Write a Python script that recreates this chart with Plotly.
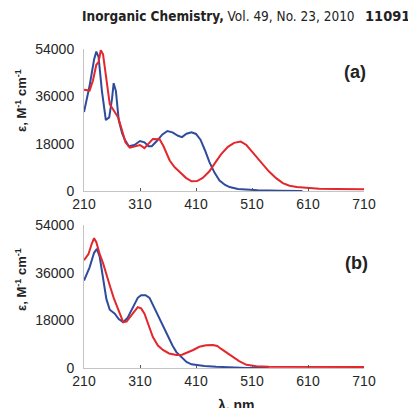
import plotly.graph_objects as go

# ---- data ----
wl_a_blue = [210, 220, 228, 232, 236, 242, 249, 255, 260, 263, 267, 272, 278, 283, 290, 300, 310, 318, 325,
             331, 340, 350, 359, 368, 378, 385, 393, 402, 410, 418, 426, 434, 443, 452, 462, 470, 485, 500,
             520, 560, 600]
eps_a_blue = [30000, 40000, 50000, 53000, 51000, 38000, 27000, 28000, 35000, 41000, 38000, 27000, 22000,
              19500, 17000, 17500, 19000, 18500, 17000, 17000, 19000, 21500, 22800, 22300, 21000, 20500,
              21800, 22300, 21700, 19500, 15500, 11000, 7000, 4000, 2300, 1500, 800, 500, 300, 100, 0]

wl_a_red = [210, 220, 226, 232, 236, 240, 244, 250, 256, 262, 271, 278, 284, 292, 300, 310, 318, 325, 333,
            345, 352, 363, 372, 381, 392, 402, 412, 422, 434, 445, 455, 467, 478, 490, 500, 510, 520, 529,
            540, 553, 565, 577, 590, 607, 630, 660, 710]
eps_a_red = [38500, 38200, 42000, 48000, 49000, 53500, 52000, 42000, 33000, 31000, 28000, 23000, 18500,
             16500, 17000, 17500, 16300, 18000, 19800, 19700, 17000, 11600, 9000, 7200, 5000, 3700, 3800,
             5000, 7500, 11000, 14000, 16800, 18300, 18800, 17500, 15000, 12500, 10500, 7500, 4900, 3000,
             2000, 1500, 1200, 900, 800, 700]

wl_b_blue = [210, 220, 228, 233, 238, 244, 250, 256, 265, 272, 280, 288, 298, 306, 312, 320, 327, 335, 343,
             351, 360, 368, 375, 385, 393, 402, 410, 425, 446, 470, 500, 540]
eps_b_blue = [33000, 38000, 43500, 45000, 42000, 34000, 26000, 22000, 20500, 18500, 17300, 19000, 23500,
              26500, 27500, 27500, 26500, 23000, 19000, 15500, 11500, 8500, 6000, 3800, 2300, 1400, 1100,
              800, 500, 200, 0, 0]

wl_b_red = [210, 218, 224, 228, 232, 238, 244, 250, 257, 263, 269, 275, 280, 286, 292, 298, 306, 312, 318,
            325, 333, 342, 351, 362, 375, 385, 393, 405, 416, 428, 440, 448, 455, 465, 475, 487, 500, 518,
            540, 600, 710]
eps_b_red = [40700, 43000, 47000, 49000, 47500, 43000, 39600, 35000, 30500, 26500, 23000, 19500, 17300,
             17500, 19000, 20800, 23000, 22500, 20500, 16000, 11700, 8500, 6800, 5500, 4900, 5000, 5600,
             6800, 8000, 8600, 8700, 8300, 7200, 5800, 4200, 2600, 1200, 700, 500, 400, 400]

x_ticks = [210, 310, 410, 510, 610, 710]
y_ticks = [0, 18000, 36000, 54000]

BLUE = "#2f4b9c"
RED = "#e3272c"

OFF = 8  # page body margin
W, H = 416, 408
# plot-area edges in screen pixels
SL, SR, ST, SB = 84, 364, 49, 368
L, R, T, B = SL - OFF, SR - OFF, ST - OFF, SB - OFF


def px(x):
    return (x - OFF - L) / (R - L)


def py(y):
    return (B - (y - OFF)) / (B - T)


fig = go.Figure()
fig.add_trace(go.Scatter(x=wl_a_blue, y=eps_a_blue, mode="lines", line=dict(color=BLUE, width=2),
                         xaxis="x", yaxis="y", showlegend=False))
fig.add_trace(go.Scatter(x=wl_a_red, y=eps_a_red, mode="lines", line=dict(color=RED, width=2),
                         xaxis="x", yaxis="y", showlegend=False))
fig.add_trace(go.Scatter(x=wl_b_blue, y=eps_b_blue, mode="lines", line=dict(color=BLUE, width=2),
                         xaxis="x2", yaxis="y2", showlegend=False))
fig.add_trace(go.Scatter(x=wl_b_red, y=eps_b_red, mode="lines", line=dict(color=RED, width=2),
                         xaxis="x2", yaxis="y2", showlegend=False))

tickfont = dict(family="Liberation Sans, Arial, sans-serif", size=14, color="#262626")
xax = dict(range=[210, 710], tickvals=x_ticks, ticktext=[str(v) for v in x_ticks], showgrid=False,
           zeroline=False, showline=True, linecolor="#c4c4c4", linewidth=1, ticks="inside", ticklen=3,
           tickcolor="#555555", tickfont=tickfont)
yax = dict(range=[0, 54000], tickvals=y_ticks, ticktext=[str(v) for v in y_ticks], showgrid=False,
           zeroline=False, showline=True, linecolor="#c4c4c4", linewidth=1, ticks="", tickfont=tickfont,
           ticklabelstandoff=6)

top_dom = [py(191), 1.0]
bot_dom = [0.0, py(225)]

fig.update_layout(
    width=W, height=H,
    margin=dict(l=L, r=W - R, t=T, b=H - B),
    paper_bgcolor="white", plot_bgcolor="white",
    xaxis=dict(xax, anchor="y", domain=[0, 1]),
    yaxis=dict(yax, anchor="x", domain=top_dom),
    xaxis2=dict(xax, anchor="y2", domain=[0, 1]),
    yaxis2=dict(yax, anchor="x2", domain=bot_dom),
)

bold = "Liberation Sans, Arial, sans-serif"
narrow = "DejaVu Sans Condensed, Liberation Sans Narrow, Arial Narrow, sans-serif"
ann = [
    dict(x=px(80), y=py(16), text="<b>Inorganic Chemistry,</b> Vol. 49, No. 23, 2010",
         xanchor="left", yanchor="middle", font=dict(family=narrow, size=13.5, color="#222222")),
    dict(x=px(412), y=py(16), text="<b>11091</b>", xanchor="right", yanchor="middle",
         font=dict(family=narrow, size=14.5, color="#222222")),
    dict(x=px(355), y=py(72), text="<b>(a)</b>", xanchor="center", yanchor="middle",
         font=dict(family=bold, size=18, color="#222222")),
    dict(x=px(356), y=py(263), text="<b>(b)</b>", xanchor="center", yanchor="middle",
         font=dict(family=bold, size=18, color="#222222")),
    dict(x=px(21), y=py(101), text="<b>ε, M<sup>-1</sup> cm<sup>-1</sup></b>", textangle=-90,
         xanchor="center", yanchor="middle", font=dict(family=bold, size=13, color="#222222")),
    dict(x=px(21), y=py(280), text="<b>ε, M<sup>-1</sup> cm<sup>-1</sup></b>", textangle=-90,
         xanchor="center", yanchor="middle", font=dict(family=bold, size=13, color="#222222")),
    dict(x=px(237), y=py(405), text="<b>λ, nm</b>", xanchor="center", yanchor="middle",
         font=dict(family=bold, size=14, color="#222222")),
]
for a in ann:
    a.update(xref="paper", yref="paper", showarrow=False)
fig.update_layout(annotations=ann)

fig.write_html("out.html")
